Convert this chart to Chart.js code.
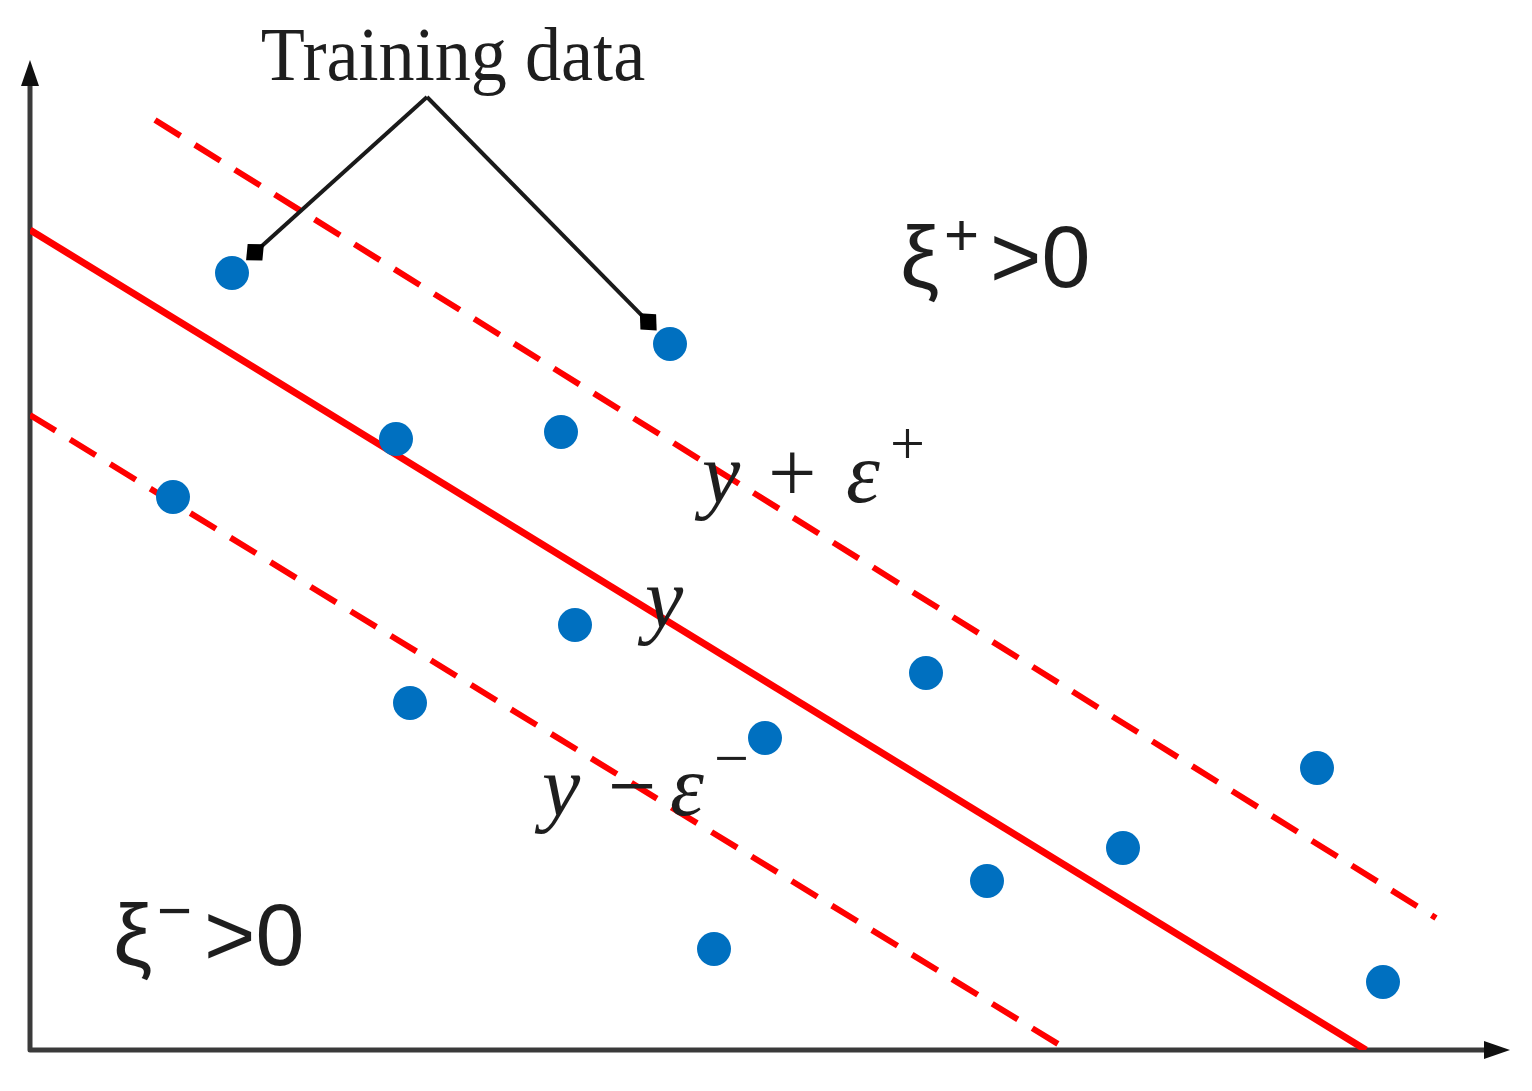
<!DOCTYPE html>
<html>
<head>
<meta charset="utf-8">
<style>
  html, body { margin: 0; padding: 0; background: #fff; }
  #wrap { width: 1532px; height: 1091px; position: relative; }
</style>
<script src="https://cdn.jsdelivr.net/npm/chart.js@4.4.1/dist/chart.umd.min.js"></script>
</head>
<body>
<div id="wrap"><canvas id="c"></canvas></div>
<script>
// Training data points (axis units, x 0..148, y 0..99)
const pointX = [20.2, 64.0, 36.6, 53.1, 14.3, 54.5, 89.6, 38.0, 73.5, 128.7, 109.3, 95.7, 68.4, 135.3];
const pointY = [77.7, 70.6, 61.1, 61.8, 55.3, 42.5, 37.7, 34.7, 31.2, 28.2, 20.2, 16.9, 10.1, 6.8];

// Regression line y and the two edges of the epsilon tube (start, end)
const fitX = [0, 133.6];
const fitY = [82, 0];
const upperX = [12.5, 140.6];
const upperY = [93, 13.2];
const lowerX = [0, 103.3];
const lowerY = [63.5, 0.3];

// Indices of the points the "Training data" callout points at
const calloutTargets = [0, 1];

const RED = "#ff0000";
const BLUE = "#0070c0";
const INK = "#1e1e1e";

function pairs(xs, ys) {
  return xs.map((x, i) => ({ x: x, y: ys[i] }));
}

// Axes with arrow heads, drawn under the data
const axesPlugin = {
  id: "axes",
  beforeDatasetsDraw(chart) {
    const ctx = chart.ctx;
    const xs = chart.scales.x, ys = chart.scales.y;
    const x0 = xs.getPixelForValue(0), y0 = ys.getPixelForValue(0);
    const xEnd = xs.getPixelForValue(xs.max), yEnd = ys.getPixelForValue(ys.max);
    ctx.save();
    ctx.strokeStyle = "#3a3a3a";
    ctx.fillStyle = "#111";
    ctx.lineWidth = 5;
    ctx.lineJoin = "round";
    ctx.lineCap = "round";
    ctx.beginPath();
    ctx.moveTo(x0, yEnd + 20);
    ctx.lineTo(x0, y0);
    ctx.lineTo(xEnd - 20, y0);
    ctx.stroke();
    // arrow heads
    ctx.beginPath();
    ctx.moveTo(x0, yEnd);
    ctx.lineTo(x0 - 9, yEnd + 26);
    ctx.lineTo(x0 + 9, yEnd + 26);
    ctx.closePath();
    ctx.fill();
    ctx.beginPath();
    ctx.moveTo(xEnd, y0);
    ctx.lineTo(xEnd - 26, y0 - 9);
    ctx.lineTo(xEnd - 26, y0 + 9);
    ctx.closePath();
    ctx.fill();
    ctx.restore();
  },
};

function drawPieces(ctx, pieces, baseline) {
  pieces.forEach(function (p) {
    ctx.font = p.font;
    ctx.fillText(p.t, p.x, baseline + (p.dy || 0));
  });
}

// Callout arrows and the text labels
const labelPlugin = {
  id: "labels",
  afterDatasetsDraw(chart) {
    const ctx = chart.ctx;
    const xs = chart.scales.x, ys = chart.scales.y;
    ctx.save();
    ctx.fillStyle = INK;
    ctx.textBaseline = "alphabetic";

    // "Training data" callout, a bit condensed like the original
    ctx.save();
    ctx.translate(453, 80);
    ctx.scale(0.95, 1);
    ctx.textAlign = "center";
    ctx.font = "76px 'Liberation Serif', 'Times New Roman', serif";
    ctx.fillText("Training data", 0, 0);
    ctx.restore();
    ctx.textAlign = "left";

    const apex = { x: 427, y: 97 };
    ctx.strokeStyle = "#1a1a1a";
    ctx.fillStyle = "#000";
    ctx.lineWidth = 4;
    calloutTargets.forEach(function (i) {
      const px = xs.getPixelForValue(pointX[i]);
      const py = ys.getPixelForValue(pointY[i]);
      const dx = apex.x - px, dy = apex.y - py;
      const len = Math.hypot(dx, dy);
      const ux = dx / len, uy = dy / len;
      const tipX = px + ux * 19, tipY = py + uy * 19;
      ctx.beginPath();
      ctx.moveTo(apex.x, apex.y);
      ctx.lineTo(tipX + ux * 16, tipY + uy * 16);
      ctx.stroke();
      const nx = -uy, ny = ux;
      ctx.beginPath();
      ctx.moveTo(tipX, tipY);
      ctx.lineTo(tipX + ux * 12 + nx * 11, tipY + uy * 12 + ny * 11);
      ctx.lineTo(tipX + ux * 24, tipY + uy * 24);
      ctx.lineTo(tipX + ux * 12 - nx * 11, tipY + uy * 12 - ny * 11);
      ctx.closePath();
      ctx.fill();
    });

    ctx.fillStyle = INK;
    const sans = "'Liberation Sans', Arial, sans-serif";
    const serifI = "italic 86px 'Liberation Serif', serif";
    const serifUp = "86px 'Liberation Serif', serif";
    const supS = "62px 'Liberation Serif', serif";

    // xi+ > 0
    drawPieces(ctx, [
      { t: "\u03BE", x: 900, font: "88px " + sans },
      { t: "+", x: 944, font: "60px " + sans, dy: -32 },
      { t: ">0", x: 990, font: "88px " + sans },
    ], 287);

    // xi- > 0
    drawPieces(ctx, [
      { t: "\u03BE", x: 113, font: "88px " + sans },
      { t: "\u2212", x: 157, font: "60px " + sans, dy: -34 },
      { t: ">0", x: 204, font: "88px " + sans },
    ], 965);

    // y + eps+
    drawPieces(ctx, [
      { t: "y", x: 702, font: serifI },
      { t: "+", x: 768, font: serifUp },
      { t: "\u03B5", x: 846, font: serifI },
      { t: "+", x: 890, font: supS, dy: -38 },
    ], 502);

    // y
    drawPieces(ctx, [{ t: "y", x: 645, font: serifI }], 627);

    // y - eps-
    drawPieces(ctx, [
      { t: "y", x: 542, font: serifI },
      { t: "\u2212", x: 608, font: serifUp },
      { t: "\u03B5", x: 670, font: serifI },
      { t: "\u2212", x: 714, font: supS, dy: -36 },
    ], 815);

    ctx.restore();
  },
};

const chart = new Chart(document.getElementById("c"), {
  type: "scatter",
  data: {
    datasets: [
      {
        label: "Training data",
        data: pairs(pointX, pointY),
        backgroundColor: BLUE,
        borderWidth: 0,
        pointRadius: 17,
        order: 0,
      },
      {
        label: "y",
        type: "line",
        data: pairs(fitX, fitY),
        borderColor: RED,
        borderWidth: 7,
        pointRadius: 0,
        fill: false,
        order: 1,
      },
      {
        label: "y + eps+",
        type: "line",
        data: pairs(upperX, upperY),
        borderColor: RED,
        borderWidth: 6,
        borderDash: [30, 17],
        pointRadius: 0,
        fill: false,
        order: 1,
      },
      {
        label: "y - eps-",
        type: "line",
        data: pairs(lowerX, lowerY),
        borderColor: RED,
        borderWidth: 6,
        borderDash: [30, 17],
        pointRadius: 0,
        fill: false,
        order: 1,
      },
    ],
  },
  options: {
    responsive: true,
    maintainAspectRatio: false,
    animation: false,
    layout: { padding: { left: 30, top: 60, right: 22, bottom: 41 } },
    plugins: {
      legend: { display: false },
      tooltip: { enabled: false },
    },
    scales: {
      x: { type: "linear", min: 0, max: 148, display: false },
      y: { type: "linear", min: 0, max: 99, display: false },
    },
  },
  plugins: [axesPlugin, labelPlugin],
});
</script>
</body>
</html>
